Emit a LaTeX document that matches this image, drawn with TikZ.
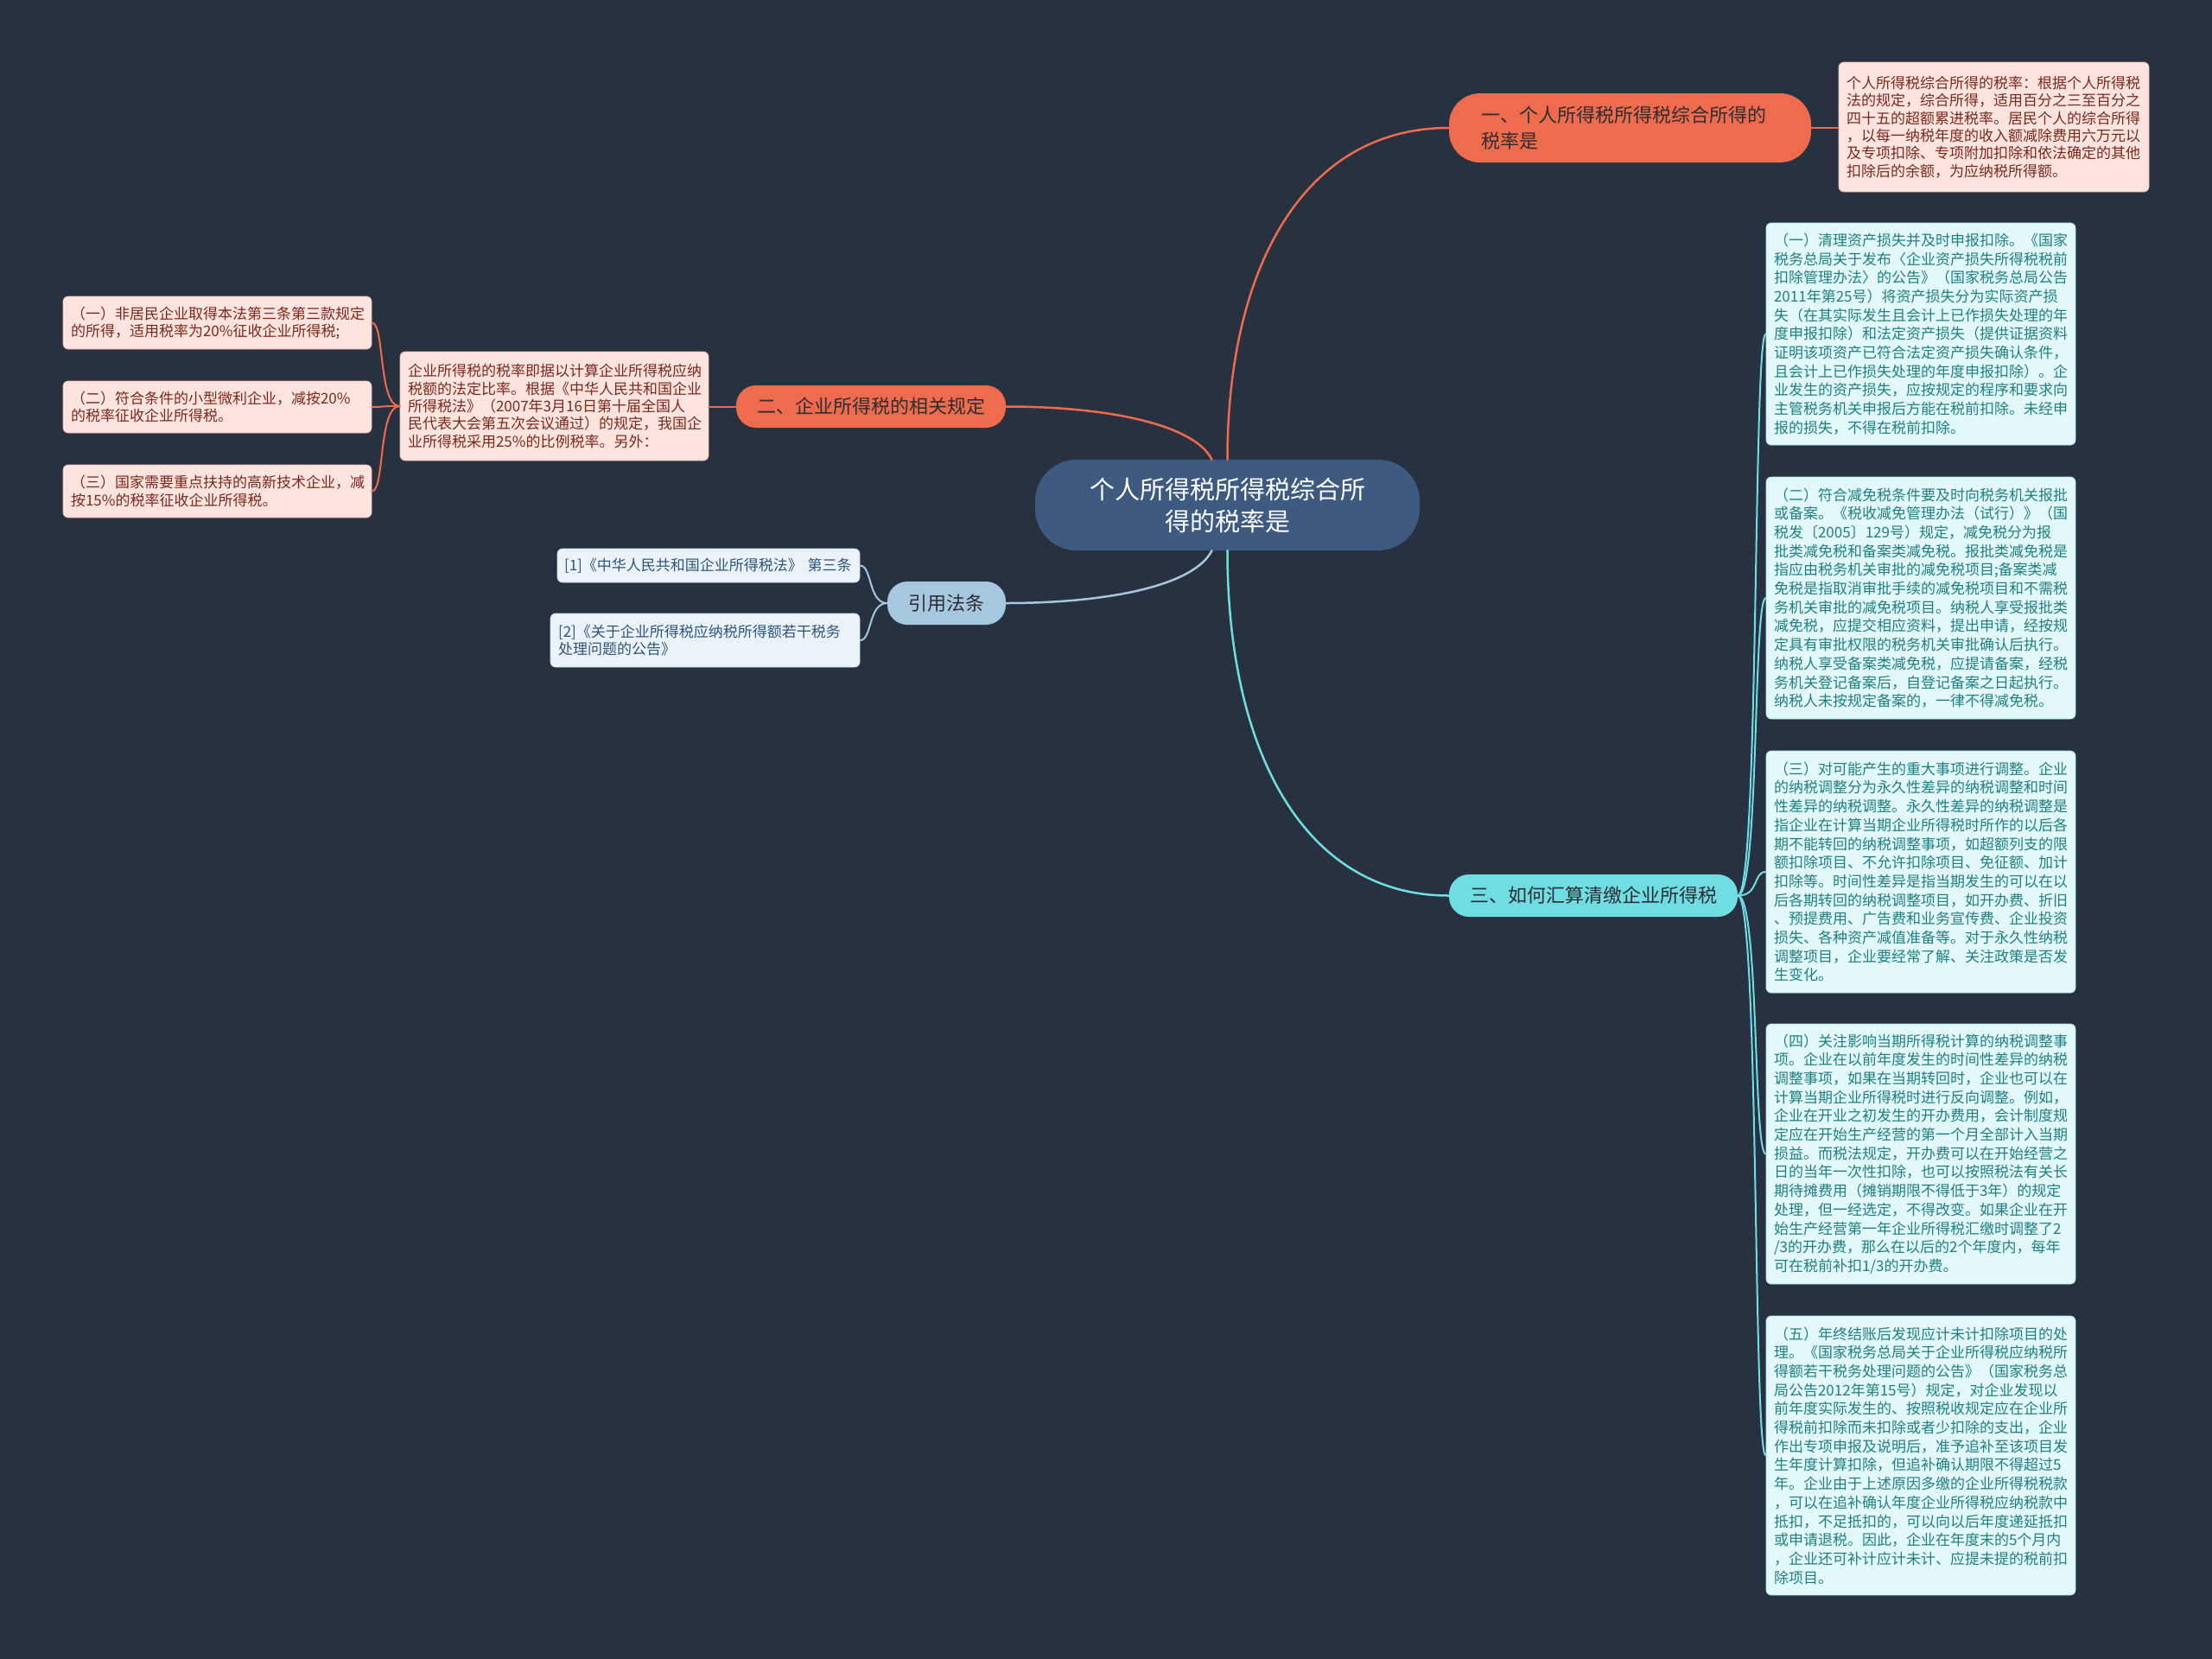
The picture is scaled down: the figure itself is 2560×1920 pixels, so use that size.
\documentclass[tikz,border=0pt]{standalone}
\usepackage{fontspec}
\setmainfont{Noto Sans CJK SC}
\definecolor{bg}{RGB}{40,49,64}
\definecolor{centerfill}{RGB}{61,90,128}
\definecolor{orangeC}{RGB}{238,108,77}
\definecolor{pinkfill}{RGB}{253,228,222}
\definecolor{pinkline}{RGB}{240,190,178}
\definecolor{pinktext}{RGB}{125,40,28}
\definecolor{cyanC}{RGB}{110,222,228}
\definecolor{cyanfill}{RGB}{226,248,249}
\definecolor{cyanline}{RGB}{170,232,236}
\definecolor{cyantext}{RGB}{30,128,132}
\definecolor{lblue}{RGB}{165,200,224}
\definecolor{citfill}{RGB}{235,243,249}
\definecolor{citline}{RGB}{200,220,236}
\definecolor{cittext}{RGB}{45,85,125}
\definecolor{darktext}{RGB}{45,45,50}
\begin{document}
\begin{tikzpicture}[x=1pt,y=-1pt,
  leaf/.style={rounded corners=6, align=left, inner xsep=9, inner ysep=0, text width=340, minimum width=358, line width=0.8, font=\fontsize{17}{21.7}\selectfont},
  leafp/.style={leaf, fill=pinkfill, draw=pinkline, text=pinktext, font=\fontsize{17}{20.3}\selectfont},
  leafc/.style={leaf, fill=cyanfill, draw=cyanline, text=cyantext},
  leafb/.style={leaf, fill=citfill, draw=citline, text=cittext, font=\fontsize{17}{20.3}\selectfont},
  branch/.style={rounded corners=23, inner sep=0, minimum height=49, text=darktext, font=\fontsize{22}{30}\selectfont},
  conn/.style={line width=2.5, line cap=round},
  sub/.style={line width=2, line cap=round}
]
\useasboundingbox (0,0) rectangle (2560,1920);
\fill[bg] (0,0) rectangle (2560,1920);

% central topic
\node[fill=centerfill, rounded corners=48, minimum width=445, minimum height=105, inner sep=0, align=center, text=white, font=\fontsize{29}{37}\selectfont] (ctr) at (1420.5,584.5) {个人所得税所得税综合所\\得的税率是};

% branches
\node[branch, fill=orangeC, minimum width=419, minimum height=80, rounded corners=36, text width=345, align=left] (b1) at (1886.5,148) {一、个人所得税所得税综合所得的\\税率是};
\node[branch, fill=orangeC, minimum width=312] (b2) at (1008,470.5) {二、企业所得税的相关规定};
\node[branch, fill=cyanC, minimum width=334] (b3) at (1844,1036.5) {三、如何汇算清缴企业所得税};
\node[branch, fill=lblue, minimum width=137, minimum height=50] (b4) at (1095.5,698) {引用法条};

% branch 1 leaf
\node[leafp, minimum height=150, text width=341] (p1) at (2307.5,147) {个人所得税综合所得的税率：根据个人所得税\\法的规定，综合所得，适用百分之三至百分之\\四十五的超额累进税率。居民个人的综合所得\\，以每一纳税年度的收入额减除费用六万元以\\及专项扣除、专项附加扣除和依法确定的其他\\扣除后的余额，为应纳税所得额。};

% branch 2 leaves
\node[leafp, minimum height=126, minimum width=357, text width=339] (pm) at (641.5,470) {企业所得税的税率即据以计算企业所得税应纳\\税额的法定比率。根据《中华人民共和国企业\\所得税法》（2007年3月16日第十届全国人\\民代表大会第五次会议通过）的规定，我国企\\业所得税采用25\%的比例税率。另外：};
\node[leafp, minimum height=61, minimum width=357, text width=339] (pl1) at (251.5,373.5) {（一）非居民企业取得本法第三条第三款规定\\的所得，适用税率为20\%征收企业所得税;};
\node[leafp, minimum height=60, minimum width=357, text width=339] (pl2) at (251.5,471) {（二）符合条件的小型微利企业，减按20\%\\的税率征收企业所得税。};
\node[leafp, minimum height=61, minimum width=357, text width=339] (pl3) at (251.5,568.5) {（三）国家需要重点扶持的高新技术企业，减\\按15\%的税率征收企业所得税。};

% citations
\node[leafb, minimum height=39, minimum width=350, text width=334, inner xsep=8] (cit1) at (820,654.5) {[1]《中华人民共和国企业所得税法》~第三条};
\node[leafb, minimum height=62, minimum width=358, text width=340] (cit2) at (816,741) {[2]《关于企业所得税应纳税所得额若干税务\\处理问题的公告》};

% branch 3 leaves
\node[leafc, minimum height=257] (c1) at (2223,386.5) {（一）清理资产损失并及时申报扣除。《国家\\税务总局关于发布〈企业资产损失所得税税前\\扣除管理办法〉的公告》（国家税务总局公告\\2011年第25号）将资产损失分为实际资产损\\失（在其实际发生且会计上已作损失处理的年\\度申报扣除）和法定资产损失（提供证据资料\\证明该项资产已符合法定资产损失确认条件，\\且会计上已作损失处理的年度申报扣除）。企\\业发生的资产损失，应按规定的程序和要求向\\主管税务机关申报后方能在税前扣除。未经申\\报的损失，不得在税前扣除。};
\node[leafc, minimum height=280] (c2) at (2223,692) {（二）符合减免税条件要及时向税务机关报批\\或备案。《税收减免管理办法（试行）》（国\\税发〔2005〕129号）规定，减免税分为报\\批类减免税和备案类减免税。报批类减免税是\\指应由税务机关审批的减免税项目;备案类减\\免税是指取消审批手续的减免税项目和不需税\\务机关审批的减免税项目。纳税人享受报批类\\减免税，应提交相应资料，提出申请，经按规\\定具有审批权限的税务机关审批确认后执行。\\纳税人享受备案类减免税，应提请备案，经税\\务机关登记备案后，自登记备案之日起执行。\\纳税人未按规定备案的，一律不得减免税。};
\node[leafc, minimum height=280] (c3) at (2223,1009) {（三）对可能产生的重大事项进行调整。企业\\的纳税调整分为永久性差异的纳税调整和时间\\性差异的纳税调整。永久性差异的纳税调整是\\指企业在计算当期企业所得税时所作的以后各\\期不能转回的纳税调整事项，如超额列支的限\\额扣除项目、不允许扣除项目、免征额、加计\\扣除等。时间性差异是指当期发生的可以在以\\后各期转回的纳税调整项目，如开办费、折旧\\、预提费用、广告费和业务宣传费、企业投资\\损失、各种资产减值准备等。对于永久性纳税\\调整项目，企业要经常了解、关注政策是否发\\生变化。};
\node[leafc, minimum height=301] (c4) at (2223,1335.5) {（四）关注影响当期所得税计算的纳税调整事\\项。企业在以前年度发生的时间性差异的纳税\\调整事项，如果在当期转回时，企业也可以在\\计算当期企业所得税时进行反向调整。例如，\\企业在开业之初发生的开办费用，会计制度规\\定应在开始生产经营的第一个月全部计入当期\\损益。而税法规定，开办费可以在开始经营之\\日的当年一次性扣除，也可以按照税法有关长\\期待摊费用（摊销期限不得低于3年）的规定\\处理，但一经选定，不得改变。如果企业在开\\始生产经营第一年企业所得税汇缴时调整了2\\/3的开办费，那么在以后的2个年度内，每年\\可在税前补扣1/3的开办费。};
\node[leafc, minimum height=323] (c5) at (2223,1684.5) {（五）年终结账后发现应计未计扣除项目的处\\理。《国家税务总局关于企业所得税应纳税所\\得额若干税务处理问题的公告》（国家税务总\\局公告2012年第15号）规定，对企业发现以\\前年度实际发生的、按照税收规定应在企业所\\得税前扣除而未扣除或者少扣除的支出，企业\\作出专项申报及说明后，准予追补至该项目发\\生年度计算扣除，但追补确认期限不得超过5\\年。企业由于上述原因多缴的企业所得税税款\\，可以在追补确认年度企业所得税应纳税款中\\抵扣，不足抵扣的，可以向以后年度递延抵扣\\或申请退税。因此，企业在年度末的5个月内\\，企业还可补计应计未计、应提未提的税前扣\\除项目。};

% main connectors
\draw[conn, orangeC] (ctr.north) .. controls +(0,-224) and +(-167,0) .. (b1.west);
\draw[conn, orangeC] ([xshift=-18pt]ctr.north) .. controls +(-20,-40) and +(120,0) .. (b2.east);
\draw[conn, lblue] ([xshift=-18pt]ctr.south) .. controls +(-20,40) and +(120,0) .. (b4.east);
\draw[conn, cyanC] (ctr.south) .. controls +(0,233) and +(-167,0) .. (b3.west);

% sub connectors
\draw[sub, orangeC] (b1.east) -- (p1.west |- b1.east);
\draw[sub, orangeC] (b2.west) -- (pm.east |- b2.west);
\foreach \t in {pl1,pl2,pl3}
  \draw[sub, orangeC] (pm.west) .. controls +(-25,0) and +(15,0) .. (\t.east);
\foreach \t in {cit1,cit2}
  \draw[sub, lblue] (b4.west) .. controls +(-22,0) and +(14,0) .. (\t.east);
\foreach \t in {c1,c2,c3,c4,c5}
  \draw[sub, cyanC] (b3.east) .. controls +(25,0) and +(-15,0) .. (\t.west);
\end{tikzpicture}
\end{document}
